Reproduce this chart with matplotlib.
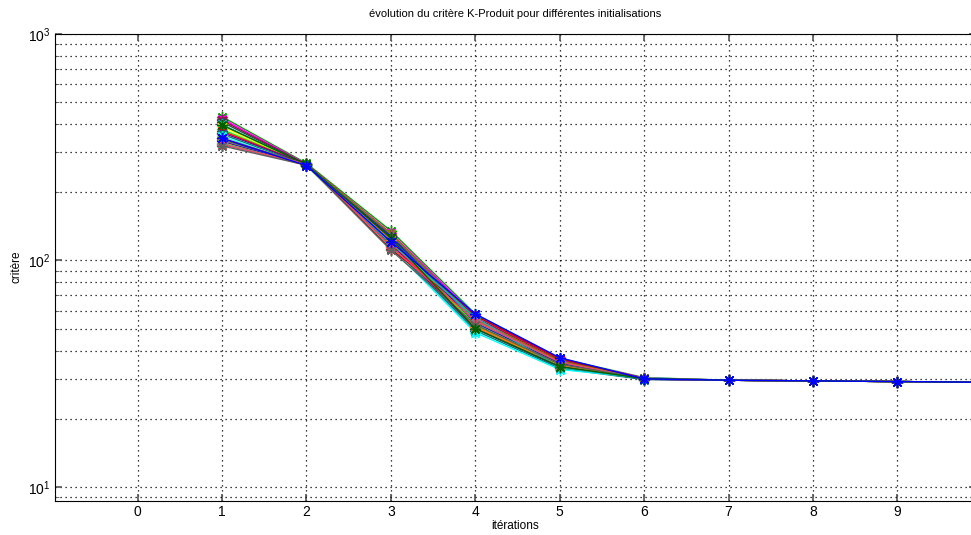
import matplotlib.pyplot as plt
import numpy as np

plt.rcParams['font.family'] = ['Liberation Sans', 'DejaVu Sans']

# critere value of each run (20 initialisations) at each iteration
iterations = [1, 2, 3, 4, 5, 6, 7, 8, 9, 10]
it1 = [430, 422, 415, 408, 398, 388, 378, 372, 366, 360,
       352, 346, 340, 335, 330, 327, 324, 320, 395, 345]
it2 = [268, 266, 265, 264, 263, 262, 264, 265, 266, 263,
       262, 264, 265, 263, 262, 264, 266, 263, 265, 262]
it3 = [135, 132, 130, 128, 126, 124, 122, 120, 118, 116,
       114, 112, 131, 127, 123, 119, 115, 111, 125, 121]
it4 = [58, 57, 56, 55, 54, 53, 52, 51, 50, 49,
       48, 57, 55, 53, 51, 56, 54, 52, 50, 58]
it5 = [37.0, 36.6, 36.2, 35.8, 35.4, 35.0, 34.6, 34.2, 33.8, 33.4,
       33.0, 36.8, 36.0, 35.2, 34.4, 33.6, 35.6, 34.8, 34.0, 37.2]
it6 = [30.4, 30.3, 30.2, 30.2, 30.1, 30.0, 30.0, 29.9, 29.9, 29.8,
       30.3, 30.1, 30.0, 29.9, 30.2, 30.1, 30.0, 30.2, 30.1, 30.0]
it7 = [29.6] * 20
it8 = [29.4] * 20
it9 = [29.2] * 20
it10 = [29.0] * 20

colors = ['#00a000', '#ff00ff', '#b00060', '#404040', '#00c0c0',
          '#ffff00', '#00ff00', '#ff0000', '#800080', '#008080',
          '#00ffff', '#c00000', '#808000', '#2020c0', '#ff8000',
          '#20b0b0', '#ff4060', '#606060', '#006000', '#0000ff']

table = np.array([it1, it2, it3, it4, it5, it6, it7, it8, it9, it10])

fig = plt.figure(figsize=(9.71, 5.35), dpi=100)
ax = fig.add_axes([0.0566, 0.064, 0.9484, 0.873])

for k in range(table.shape[1]):
    ax.plot(iterations, table[:, k], '-', marker=(8, 2, 0), color=colors[k],
            lw=1, ms=8, mew=1)

ax.set_yscale('log')
ax.set_ylim(8.7, 1000)
ax.set_xlim(-0.98, 9.93)
ax.set_xticks(range(0, 10))

dots = (0, (1, 3))
ax.grid(True, which='major', axis='x', ls=dots, color='k', lw=0.9)
ax.grid(True, which='both', axis='y', ls=dots, color='k', lw=0.9)
ax.tick_params(which='both', direction='in', top=True, right=True, labelsize=10,
               color='#555555')
ax.tick_params(which='major', length=5, width=1.2)
ax.tick_params(which='minor', length=3)
ax.tick_params(axis='x', pad=3)
ax.spines['right'].set_visible(False)

ax.set_title('évolution du critère K-Produit pour différentes initialisations', fontsize=8, pad=12)
ax.set_xlabel('itérations', fontsize=8.5, labelpad=1)
ax.set_ylabel('critère', fontsize=8.5, labelpad=4)

fig.savefig('out.png', dpi=100)
